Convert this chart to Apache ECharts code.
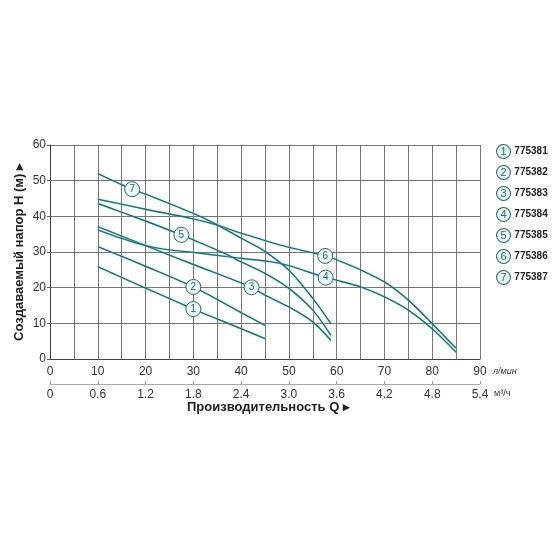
<!DOCTYPE html>
<html><head><meta charset="utf-8">
<script src="https://cdn.jsdelivr.net/npm/echarts@6/dist/echarts.min.js"></script>
<style>html,body{margin:0;padding:0;background:#fff}#c{width:560px;height:560px}</style>
</head><body><div id="c"></div>
<script>
// ---- data ----
const names = ['775381','775382','775383','775384','775385','775386','775387'];
const q1 = [10,20,30,40,45];
const h1 = [25.9,19.9,14,8.5,5.7];
const q2 = [10,20,30,40,45];
const h2 = [31.5,26,20.2,13,9.4];
const q3 = [10,20,30,42.2,45,50,55,58.8];
const h3 = [37.1,31.8,26.5,20.1,17.9,14.6,10.4,5.2];
const q4 = [10,15,20,25,30,37,46,50,57.7,60,65,70,75,80,85];
const h4 = [36.2,33.8,31.8,30.6,29.9,28.7,27.3,26.2,22.8,22.1,20.2,17.4,13.7,8.5,1.9];
const q5 = [10,20,27.5,30,37.2,40,45,50,55,58.8];
const h5 = [43.6,38.7,34.8,33.4,29.2,27.2,24,19.8,13.7,6.6];
const q6 = [10,20,30,34.8,40,48,57.6,60,65,70,75,80,85];
const h6 = [44.8,42,39.3,37.6,35.3,32,28.9,27.8,25,21.6,16.5,9.9,3];
const q7 = [10,17.2,20,30,35,40,44.5,50,55,58.8];
const h7 = [52,47.6,46.2,40.8,37.6,33.9,30.6,24.9,17,9.9];
const labelQ = [30,30,42.2,57.7,27.5,57.6,17.2];
const labelH = [14,20.2,20.1,22.8,34.8,28.9,47.6];
const yTicks = [0,10,20,30,40,50,60];
const xTicksLmin = [0,10,20,30,40,50,60,70,80,90];
const xTicksM3 = ['0','0.6','1.2','1.8','2.4','3.0','3.6','4.2','4.8','5.4'];

const Q = [q1,q2,q3,q4,q5,q6,q7];
const H = [h1,h2,h3,h4,h5,h6,h7];
const lineColor = '#2b6868';

const series = names.map((n,i)=>({
  name: n,
  type: 'line',
  xAxisIndex: 0,
  yAxisIndex: 0,
  smooth: 0.3,
  showSymbol: false,
  silent: true,
  data: Q[i].map((q,j)=>[q,H[i][j]]),
  lineStyle: {color: lineColor, width: 1.4, shadowColor: 'rgba(110,215,225,0.6)', shadowBlur: 3},
  itemStyle: {color: lineColor},
  markPoint: {
    symbol: 'circle',
    symbolSize: 15,
    itemStyle: {color: '#eaf7f7', borderColor: lineColor, borderWidth: 1},
    label: {show: true, formatter: String(i+1), color: lineColor, fontSize: 10, fontFamily: 'Liberation Sans'},
    data: [{coord: [labelQ[i], labelH[i]]}]
  }
}));

const chart = echarts.init(document.getElementById('c'));
chart.setOption({
  backgroundColor: '#fff',
  animation: false,
  textStyle: {fontFamily: 'Liberation Sans, Arial, sans-serif'},
  grid: {left: 50, right: 80, top: 145, bottom: 201, containLabel: false},
  legend: {
    orient: 'vertical', left: 492, top: 144, itemGap: 6, padding: 0,
    icon: 'none', itemWidth: 0, itemHeight: 14,
    data: names,
    formatter: function(n){ return '{c|' + (names.indexOf(n)+1) + '} {t|' + n + '}'; },
    textStyle: {
      rich: {
        c: {width: 13, height: 13, borderRadius: 7, borderColor: lineColor, borderWidth: 1,
            backgroundColor: '#eaf7f7', align: 'center', color: lineColor, fontSize: 11, lineHeight: 14},
        t: {fontWeight: 'bold', fontSize: 10, color: '#222', padding: [0,0,0,1]}
      }
    }
  },
  xAxis: [
    {
      type: 'value', min: 0, max: 90, interval: 5, position: 'bottom',
      axisLine: {show: true, lineStyle: {color: '#444', width: 1}},
      axisTick: {show: false},
      axisLabel: {color: '#333', fontSize: 12, margin: 7,
        formatter: v => xTicksLmin.indexOf(v) >= 0 ? String(v) : ''},
      splitLine: {show: true, lineStyle: {color: '#666', width: 0.9}}
    },
    {
      type: 'value', min: 0, max: 5.4, interval: 0.6, position: 'bottom', offset: 25,
      axisLine: {show: true, lineStyle: {color: '#aaa', width: 1}},
      axisTick: {show: true, inside: true, length: 3, lineStyle: {color: '#999'}},
      axisLabel: {color: '#333', fontSize: 12, margin: 5,
        formatter: v => xTicksM3[Math.round(v/0.6)]},
      splitLine: {show: false}
    }
  ],
  yAxis: {
    type: 'value', min: 0, max: 60, interval: 10,
    name: 'Создаваемый напор Н (м) ▸', nameLocation: 'middle', nameGap: 24, nameMoveOverlap: false,
    nameTextStyle: {fontSize: 13, fontWeight: 'bold', color: '#222'},
    axisLine: {show: true, lineStyle: {color: '#444', width: 1}},
    axisTick: {show: true, length: 3, lineStyle: {color: '#666'}},
    axisLabel: {color: '#333', fontSize: 12, margin: 4,
      formatter: v => yTicks.indexOf(v) >= 0 ? String(v) : ''},
    splitLine: {show: true, lineStyle: {color: '#666', width: 0.9}}
  },
  graphic: [
    {type: 'text', left: 493, top: 367, style: {text: 'л/мин', fontSize: 9, fill: '#333', fontStyle: 'italic'}},
    {type: 'text', left: 494, top: 389, style: {text: 'м³/ч', fontSize: 9, fill: '#333'}},
    {type: 'text', left: 187, top: 401, style: {text: 'Производительность Q ▸', fontSize: 13, fontWeight: 'bold', fill: '#222'}}
  ],
  series: series
});
</script>
</body></html>
